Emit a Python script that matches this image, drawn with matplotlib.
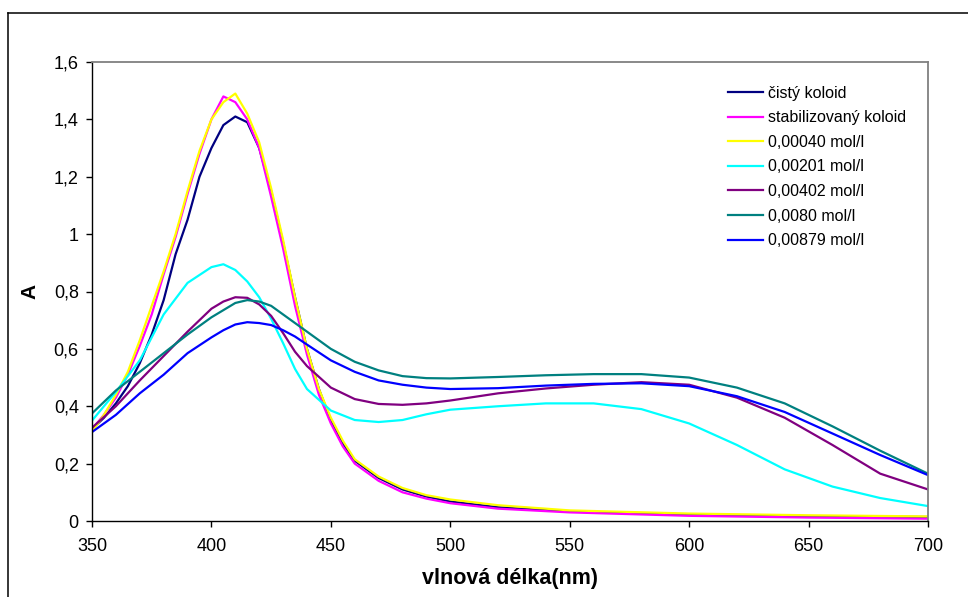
import numpy as np
import matplotlib
matplotlib.use("Agg")
import matplotlib.pyplot as plt
from matplotlib.lines import Line2D
from matplotlib.ticker import FuncFormatter, MultipleLocator

plt.rcParams['font.family'] = ['Liberation Sans', 'DejaVu Sans']

# -------------------------------------------------------
# DATA
# -------------------------------------------------------

# wavelength grid for the sharp-peak series (nm)
wl_peak = [350, 355, 360, 365, 370, 375, 380, 385, 390, 395, 400, 405, 410,
           415, 420, 425, 430, 435, 440, 445, 450, 455, 460, 470, 480, 490,
           500, 520, 550, 600, 650, 700]

cisty = [0.32, 0.36, 0.41, 0.47, 0.55, 0.65, 0.77, 0.93, 1.05, 1.20, 1.30,
         1.38, 1.41, 1.39, 1.30, 1.15, 0.97, 0.78, 0.60, 0.46, 0.35, 0.27,
         0.21, 0.15, 0.11, 0.085, 0.068, 0.048, 0.033, 0.022, 0.017, 0.014]

stabil = [0.32, 0.37, 0.43, 0.51, 0.61, 0.72, 0.86, 0.99, 1.14, 1.28, 1.40,
          1.48, 1.46, 1.40, 1.30, 1.13, 0.95, 0.75, 0.58, 0.44, 0.34, 0.26,
          0.20, 0.14, 0.10, 0.078, 0.062, 0.043, 0.030, 0.018, 0.012, 0.008]

c00040 = [0.31, 0.37, 0.44, 0.52, 0.63, 0.75, 0.87, 1.00, 1.15, 1.29, 1.40,
          1.46, 1.49, 1.42, 1.32, 1.16, 0.98, 0.78, 0.60, 0.46, 0.36, 0.28,
          0.215, 0.155, 0.115, 0.09, 0.075, 0.055, 0.037, 0.026, 0.020, 0.016]

# wavelength grid for the broad series (nm)
wl_broad = [350, 360, 370, 380, 390, 400, 405, 410, 415, 420, 425, 430, 435,
            440, 450, 460, 470, 480, 490, 500, 520, 540, 560, 580, 600, 620,
            640, 660, 680, 700]

c00201 = [0.35, 0.45, 0.56, 0.72, 0.83, 0.885, 0.895, 0.875, 0.835, 0.78,
          0.705, 0.62, 0.53, 0.46, 0.385, 0.352, 0.345, 0.352, 0.372, 0.388,
          0.40, 0.41, 0.41, 0.39, 0.34, 0.265, 0.18, 0.12, 0.08, 0.052]

c00402 = [0.325, 0.40, 0.49, 0.575, 0.66, 0.74, 0.765, 0.78, 0.778, 0.755,
          0.715, 0.655, 0.59, 0.54, 0.465, 0.425, 0.408, 0.405, 0.41, 0.42,
          0.445, 0.462, 0.475, 0.484, 0.475, 0.43, 0.36, 0.265, 0.165, 0.11]

c0080 = [0.375, 0.455, 0.52, 0.585, 0.65, 0.71, 0.735, 0.76, 0.77, 0.765,
         0.75, 0.72, 0.69, 0.66, 0.60, 0.555, 0.525, 0.505, 0.498, 0.497,
         0.502, 0.508, 0.512, 0.512, 0.5, 0.465, 0.41, 0.33, 0.245, 0.165]

c00879 = [0.31, 0.37, 0.445, 0.51, 0.585, 0.64, 0.665, 0.685, 0.693, 0.69,
          0.683, 0.665, 0.643, 0.615, 0.56, 0.52, 0.49, 0.475, 0.465, 0.46,
          0.463, 0.472, 0.478, 0.48, 0.47, 0.435, 0.38, 0.305, 0.23, 0.16]

labels = ["čistý koloid", "stabilizovaný koloid", "0,00040 mol/l",
          "0,00201 mol/l", "0,00402 mol/l", "0,0080 mol/l", "0,00879 mol/l"]
colors = ["#000080", "#FF00FF", "#FFFF00", "#00FFFF", "#800080",
          "#008080", "#0000FF"]

series = [(wl_peak, cisty), (wl_peak, stabil), (wl_peak, c00040),
          (wl_broad, c00201), (wl_broad, c00402), (wl_broad, c0080),
          (wl_broad, c00879)]

# -------------------------------------------------------
# PLOT
# -------------------------------------------------------

fig = plt.figure(figsize=(9.68, 5.97), dpi=100)
ax = fig.add_axes([92 / 968, 1 - 521 / 597, 836 / 968, 459 / 597])

for (x, y), lab, col in zip(series, labels, colors):
    ax.plot(x, y, color=col, lw=1.6, label=lab)

ax.set_xlim(350, 700)
ax.set_ylim(0, 1.6)
ax.xaxis.set_major_locator(MultipleLocator(50))
ax.yaxis.set_major_locator(MultipleLocator(0.2))
ax.yaxis.set_major_formatter(
    FuncFormatter(lambda v, p: ("%g" % round(v, 2)).replace(".", ",")))

ax.tick_params(direction="out", length=4.5, width=1, labelsize=13,
               colors="black")
ax.tick_params(axis="x", pad=8)
ax.tick_params(axis="y", pad=5)
for side in ["left", "bottom"]:
    ax.spines[side].set_color("black")
    ax.spines[side].set_linewidth(1.0)
for side in ["top", "right"]:
    ax.spines[side].set_color("#808080")
    ax.spines[side].set_linewidth(1.3)

ax.set_xlabel("vlnová délka(nm)", fontsize=15.5, fontweight="bold", labelpad=9)
ax.set_ylabel("A", fontsize=15, fontweight="bold", labelpad=10)

leg = ax.legend(loc="upper left", bbox_to_anchor=(0.751, 0.966), frameon=False,
                borderpad=0, fontsize=11.5, handlelength=2.2,
                handletextpad=0.31, labelspacing=0.6)

# outer chart frame (cut off at the right and bottom)
fig.add_artist(Line2D([8 / 968, 8 / 968], [-0.05, 1 - 13 / 597],
                      transform=fig.transFigure, color="black", lw=1.1))
fig.add_artist(Line2D([8 / 968, 1.05], [1 - 13 / 597, 1 - 13 / 597],
                      transform=fig.transFigure, color="black", lw=1.1))

fig.savefig("out.png", dpi=100)
